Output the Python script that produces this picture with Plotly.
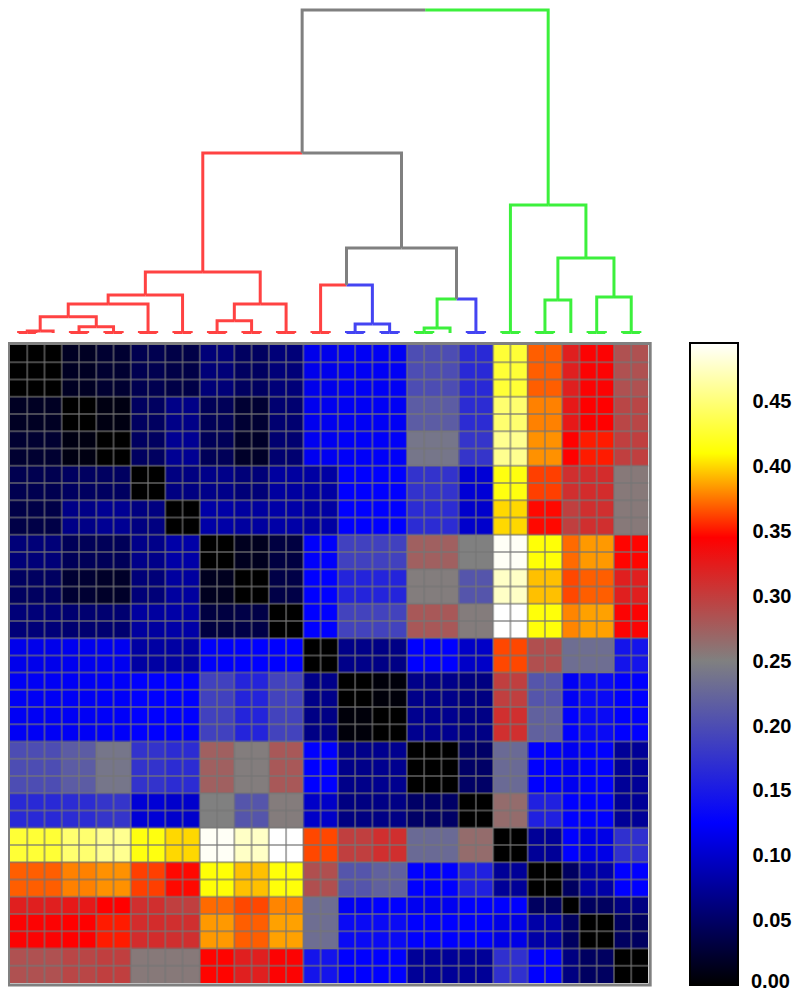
import plotly.graph_objects as go

# ---------------- data ----------------
# leaf blocks in dendrogram order (replicate groups), sizes and dendrogram colours
block_names = ["A", "B", "C", "D", "E", "F", "G", "H", "I",
               "J", "K", "M", "N", "O", "P", "S", "Q", "R"]
block_sizes = [3, 2, 2, 2, 2, 2, 2, 2, 2, 2, 2, 3, 2, 2, 2, 1, 2, 2]
block_colors = ["red", "red", "red", "red", "red", "red", "red", "red", "red",
                "blue", "blue", "green", "blue", "green", "green", "green", "green", "green"]

# block-to-block distance values (symmetric), order as block_names
block_dist = [
    [0.000, 0.017, 0.024, 0.039, 0.035, 0.059, 0.047, 0.059, 0.115, 0.120, 0.120, 0.200, 0.165, 0.428, 0.369, 0.322, 0.343, 0.285],
    [0.017, 0.000, 0.009, 0.047, 0.066, 0.043, 0.025, 0.055, 0.117, 0.120, 0.120, 0.215, 0.168, 0.447, 0.378, 0.327, 0.345, 0.293],
    [0.024, 0.009, 0.000, 0.047, 0.072, 0.043, 0.020, 0.055, 0.118, 0.122, 0.122, 0.240, 0.177, 0.458, 0.382, 0.345, 0.352, 0.298],
    [0.039, 0.047, 0.047, 0.000, 0.063, 0.067, 0.059, 0.078, 0.080, 0.125, 0.125, 0.175, 0.105, 0.415, 0.361, 0.310, 0.312, 0.255],
    [0.035, 0.066, 0.072, 0.063, 0.000, 0.082, 0.078, 0.082, 0.080, 0.125, 0.125, 0.168, 0.100, 0.400, 0.347, 0.298, 0.310, 0.255],
    [0.059, 0.043, 0.043, 0.067, 0.082, 0.000, 0.015, 0.032, 0.123, 0.188, 0.188, 0.274, 0.250, 0.492, 0.412, 0.372, 0.384, 0.346],
    [0.047, 0.025, 0.020, 0.059, 0.078, 0.015, 0.000, 0.035, 0.125, 0.160, 0.160, 0.252, 0.208, 0.476, 0.394, 0.363, 0.369, 0.322],
    [0.059, 0.055, 0.055, 0.078, 0.082, 0.032, 0.035, 0.000, 0.125, 0.190, 0.190, 0.280, 0.253, 0.495, 0.413, 0.379, 0.386, 0.343],
    [0.115, 0.117, 0.118, 0.080, 0.080, 0.123, 0.125, 0.125, 0.000, 0.067, 0.065, 0.125, 0.098, 0.363, 0.286, 0.232, 0.232, 0.145],
    [0.120, 0.120, 0.122, 0.125, 0.125, 0.188, 0.160, 0.190, 0.067, 0.000, 0.005, 0.067, 0.063, 0.298, 0.208, 0.120, 0.135, 0.125],
    [0.120, 0.120, 0.122, 0.125, 0.125, 0.188, 0.160, 0.190, 0.065, 0.005, 0.000, 0.070, 0.065, 0.310, 0.220, 0.125, 0.135, 0.125],
    [0.200, 0.215, 0.240, 0.175, 0.168, 0.274, 0.252, 0.280, 0.125, 0.067, 0.070, 0.000, 0.050, 0.229, 0.125, 0.118, 0.125, 0.074],
    [0.165, 0.168, 0.177, 0.105, 0.100, 0.250, 0.208, 0.253, 0.098, 0.063, 0.065, 0.050, 0.000, 0.265, 0.156, 0.125, 0.125, 0.074],
    [0.428, 0.447, 0.458, 0.415, 0.400, 0.492, 0.476, 0.495, 0.363, 0.298, 0.310, 0.229, 0.265, 0.000, 0.074, 0.125, 0.113, 0.172],
    [0.369, 0.378, 0.382, 0.361, 0.347, 0.412, 0.394, 0.413, 0.286, 0.208, 0.220, 0.125, 0.156, 0.074, 0.000, 0.047, 0.082, 0.125],
    [0.322, 0.327, 0.345, 0.310, 0.298, 0.372, 0.363, 0.379, 0.232, 0.120, 0.125, 0.118, 0.125, 0.125, 0.047, 0.000, 0.047, 0.063],
    [0.343, 0.345, 0.352, 0.312, 0.310, 0.384, 0.369, 0.386, 0.232, 0.135, 0.135, 0.125, 0.125, 0.113, 0.082, 0.047, 0.000, 0.047],
    [0.285, 0.293, 0.298, 0.255, 0.255, 0.346, 0.322, 0.343, 0.145, 0.125, 0.125, 0.074, 0.074, 0.172, 0.125, 0.063, 0.047, 0.000],
]

# dendrogram merges: (left node, right node, height); leaves are 0..36, new nodes numbered from 37
merges = [
    (0, 1, 0.0005), (37, 2, 0.002),            # 37, 38 : A
    (3, 4, 0.0005), (5, 6, 0.0005),            # 39 B, 40 C
    (39, 40, 0.0063), (38, 41, 0.0163),        # 41 BC, 42 ABC
    (7, 8, 0.0005), (42, 43, 0.029),           # 43 D, 44
    (9, 10, 0.0005), (44, 45, 0.038),          # 45 E, 46
    (11, 12, 0.0005), (13, 14, 0.0005),        # 47 F, 48 G
    (47, 48, 0.0123), (15, 16, 0.0005),        # 49 FG, 50 H
    (49, 50, 0.029), (46, 51, 0.061),          # 51 FGH, 52 A-H
    (17, 18, 0.0005), (19, 20, 0.0005),        # 53 I, 54 J
    (21, 22, 0.0005), (54, 55, 0.009),         # 55 K, 56 JK
    (53, 56, 0.048),                           # 57 IJK
    (23, 24, 0.0005), (58, 25, 0.005),         # 58, 59 M
    (26, 27, 0.0005), (59, 60, 0.034),         # 60 N, 61 MN
    (57, 61, 0.085), (52, 62, 0.180),          # 62, 63
    (28, 29, 0.0005), (30, 31, 0.0005),        # 64 O, 65 P
    (65, 32, 0.033), (33, 34, 0.0005),         # 66 PS, 67 Q
    (35, 36, 0.0005), (67, 68, 0.036),         # 68 R, 69 QR
    (66, 69, 0.075), (64, 70, 0.128),          # 70, 71
    (63, 71, 0.323),                           # 72 root
]

tick_vals = [0.00, 0.05, 0.10, 0.15, 0.20, 0.25, 0.30, 0.35, 0.40, 0.45]
tick_text = ["0.00", "0.05", "0.10", "0.15", "0.20", "0.25", "0.30", "0.35", "0.40", "0.45"]
z_min, z_max = 0.0, 0.495

# ---------------- styling ----------------
PAGE_MARGIN = 8          # default body margin of the html page
W, H = 800 - 2 * PAGE_MARGIN, 1001 - 2 * PAGE_MARGIN
line_colors = {"red": "#ff4242", "blue": "#4444f2", "green": "#3cf03c", "gray": "#808080"}
colorscale = [
    [0.0, "#000000"],
    [0.125 / 0.495, "#0000ff"],
    [0.25 / 0.495, "#808080"],
    [0.345 / 0.495, "#ff0000"],
    [0.41 / 0.495, "#ffff00"],
    [1.0, "#ffffff"],
]
label_font = dict(family="Liberation Sans, Arial", size=20, color="black", weight="bold")


def pxx(x):
    return (x - PAGE_MARGIN) / W


def pxy(y):
    return 1 - (y - PAGE_MARGIN) / H


CB_L, CB_R, CB_T, CB_B = 690, 738, 343, 985

# expand blocks to leaves
leaf_block = []
for b, s in enumerate(block_sizes):
    leaf_block += [b] * s
N = len(leaf_block)
z = [[block_dist[leaf_block[i]][leaf_block[j]] for j in range(N)] for i in range(N)]

fig = go.Figure()
fig.add_trace(go.Heatmap(
    z=z, x=list(range(N)), y=list(range(N)),
    zmin=z_min, zmax=z_max, colorscale=colorscale,
    xaxis="x", yaxis="y", hoverinfo="skip",
    colorbar=dict(
        x=pxx(CB_L), xanchor="left", y=pxy(CB_B), yanchor="bottom",
        len=(CB_B - CB_T) / H, lenmode="fraction",
        thickness=CB_R - CB_L, thicknessmode="pixels", xpad=0, ypad=0,
        outlinecolor="black", outlinewidth=2,
        ticks="outside", ticklen=10, tickwidth=1, tickcolor="rgba(0,0,0,0)",
        # lowest label is placed as an annotation so it stays inside the page
        tickvals=tick_vals[1:], ticktext=tick_text[1:],
        tickfont=label_font,
    ),
))

# dendrogram
pos = {i: float(i) for i in range(N)}
hgt = {i: 0.0 for i in range(N)}
col = {i: block_colors[leaf_block[i]] for i in range(N)}
segs = {c: ([], []) for c in line_colors}
nid = N
for l, r, h in merges:
    xm = (pos[l] + pos[r]) / 2
    for child in (l, r):
        xs, ys = segs[col[child]]
        xs += [pos[child], pos[child], xm, None]
        ys += [hgt[child], h, h, None]
    pos[nid] = xm
    hgt[nid] = h
    col[nid] = col[l] if col[l] == col[r] else "gray"
    nid += 1

for c, (xs, ys) in segs.items():
    fig.add_trace(go.Scatter(x=xs, y=ys, mode="lines", xaxis="x2", yaxis="y2",
                             line=dict(color=line_colors[c], width=3),
                             hoverinfo="skip", showlegend=False))

shapes = []
# cell grid
for k in range(1, N):
    shapes.append(dict(type="line", xref="x", yref="y", x0=k - 0.5, x1=k - 0.5, y0=-0.5, y1=N - 0.5,
                       line=dict(color="rgba(118,118,118,0.62)", width=2), layer="above"))
    shapes.append(dict(type="line", xref="x", yref="y", y0=k - 0.5, y1=k - 0.5, x0=-0.5, x1=N - 0.5,
                       line=dict(color="rgba(118,118,118,0.62)", width=2), layer="above"))
# frame
shapes.append(dict(type="rect", xref="paper", yref="paper", x0=pxx(8.5), x1=pxx(651), y0=pxy(985), y1=pxy(343.5),
                   line=dict(color="#808080", width=3), layer="above"))
# colorbar inside ticks on both edges
for v in tick_vals[1:]:
    yy = CB_B - (v - z_min) / (z_max - z_min) * (CB_B - CB_T)
    for xa, xb in ((CB_L, CB_L + 6), (CB_R - 6, CB_R)):
        shapes.append(dict(type="line", xref="paper", yref="paper", x0=pxx(xa), x1=pxx(xb),
                           y0=pxy(yy), y1=pxy(yy), line=dict(color="black", width=2)))

annotations = [dict(text=tick_text[0], xref="paper", yref="paper", x=pxx(751), y=0.0,
                    xanchor="left", yanchor="bottom", showarrow=False, borderpad=0,
                    font=label_font)]

# dendrogram height axis: baseline (0) at page y 333, 0.001 per pixel
fig.update_layout(
    width=W, height=H, margin=dict(l=0, r=0, t=0, b=0),
    paper_bgcolor="white", plot_bgcolor="white", showlegend=False,
    xaxis=dict(domain=[pxx(10), pxx(649.3)], range=[-0.5, N - 0.5], visible=False),
    yaxis=dict(domain=[pxy(983), pxy(345)], range=[N - 0.5, -0.5], visible=False),
    xaxis2=dict(domain=[pxx(10), pxx(649.3)], range=[-0.5, N - 0.5], visible=False, anchor="y2"),
    yaxis2=dict(domain=[pxy(340), pxy(PAGE_MARGIN)], range=[-0.007, 0.325], visible=False, anchor="x2"),
    shapes=shapes, annotations=annotations,
)

fig.write_html("out.html")
